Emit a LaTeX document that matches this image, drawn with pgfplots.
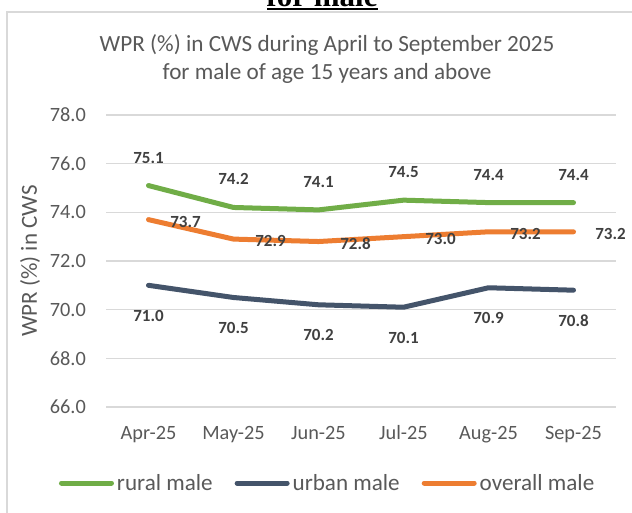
\documentclass[border=0pt]{standalone}
\usepackage{fontspec}
\setmainfont{Carlito}
\newfontfamily\timesfont{Liberation Serif}
\usepackage{pgfplots}
\pgfplotsset{compat=1.18}
\definecolor{ruralc}{HTML}{70AD47}
\definecolor{urbanc}{HTML}{44546A}
\definecolor{overallc}{HTML}{ED7D31}
\definecolor{txtc}{HTML}{595959}
\definecolor{lblc}{HTML}{404040}
\definecolor{gridc}{HTML}{D9D9D9}
\begin{document}
\begin{tikzpicture}
\useasboundingbox (0pt,0pt) rectangle (632pt,513pt);
\clip (0pt,0pt) rectangle (632pt,513pt);
\fill[white] (0pt,0pt) rectangle (632pt,513pt);
\draw[gridc, line width=1.5pt] (7pt,-5pt) -- (7pt,501pt) -- (640pt,501pt);
\node[anchor=base, inner sep=0pt, font=\timesfont\bfseries\fontsize{31}{31}\selectfont] at (322pt,506pt) {for male};
\draw[black, line width=2pt] (267pt,503.5pt) -- (378pt,503.5pt);
\node[anchor=base, inner sep=0pt, text=txtc, font=\fontsize{23.2}{28}\selectfont] at (327pt,461.3pt) {WPR (\%) in CWS during April to September 2025};
\node[anchor=base, inner sep=0pt, text=txtc, font=\fontsize{23.2}{28}\selectfont] at (327pt,433pt) {for male of age 15 years and above};
\begin{axis}[
  at={(106pt,106pt)}, anchor=south west,
  scale only axis, width=510pt, height=292pt,
  xmin=-0.5, xmax=5.5, ymin=66, ymax=78,
  ytick={66,68,70,72,74,76,78},
  xtick={0,1,2,3,4,5},
  xticklabels={Apr-25,May-25,Jun-25,Jul-25,Aug-25,Sep-25},
  axis line style={draw=none},
  major tick length=0pt,
  ymajorgrids,
  grid style={gridc, line width=1.5pt},
  clip=false,
  /pgf/number format/assume math mode=true,
  tick label style={font=\fontsize{20.3}{24}\selectfont, text=txtc, inner sep=0pt},
  y tick label style={anchor=east, xshift=-20pt, /pgf/number format/.cd, fixed, fixed zerofill, precision=1},
  x tick label style={anchor=base, yshift=-32.5pt},
  ylabel={WPR (\%) in CWS},
  ylabel style={at={(axis description cs:-0.1353,0.5)}, anchor=base, inner sep=0pt, text=txtc, font=\fontsize{23}{28}\selectfont},
  legend columns=3,
  legend style={at={(axis description cs:-0.0922,-0.2603)}, anchor=west, draw=none, fill=none,
    inner sep=0pt, outer sep=0pt, nodes={inner sep=0pt}, font=\fontsize{23.1}{28}\selectfont, text=txtc,
    /tikz/every odd column/.append style={column sep=3pt},
    /tikz/every even column/.append style={column sep=22pt}},
  legend image code/.code={\draw[#1, line width=5pt, line cap=round] (2.5pt,0pt) -- (52.5pt,0pt);},
  every axis plot/.append style={line width=5pt, line join=round, line cap=round, mark=none},
  nodes near coords={\pgfmathprintnumber[fixed,fixed zerofill,precision=1,assume math mode=true]{\pgfplotspointmeta}},
  every node near coord/.append style={font=\bfseries\fontsize{17}{20}\selectfont, text=lblc, inner sep=0pt, anchor=center},
]
\addplot[ruralc, every node near coord/.append style={yshift=28pt}] coordinates {(0,75.1) (1,74.2) (2,74.1) (3,74.5) (4,74.4) (5,74.4)};
\addlegendentry{rural male}
\addplot[urbanc, every node near coord/.append style={yshift=-30.5pt}] coordinates {(0,71.0) (1,70.5) (2,70.2) (3,70.1) (4,70.9) (5,70.8)};
\addlegendentry{urban male}
\addplot[overallc, every node near coord/.append style={xshift=37pt, yshift=-2pt}] coordinates {(0,73.7) (1,72.9) (2,72.8) (3,73.0) (4,73.2) (5,73.2)};
\addlegendentry{overall male}
\end{axis}
\end{tikzpicture}
\end{document}
